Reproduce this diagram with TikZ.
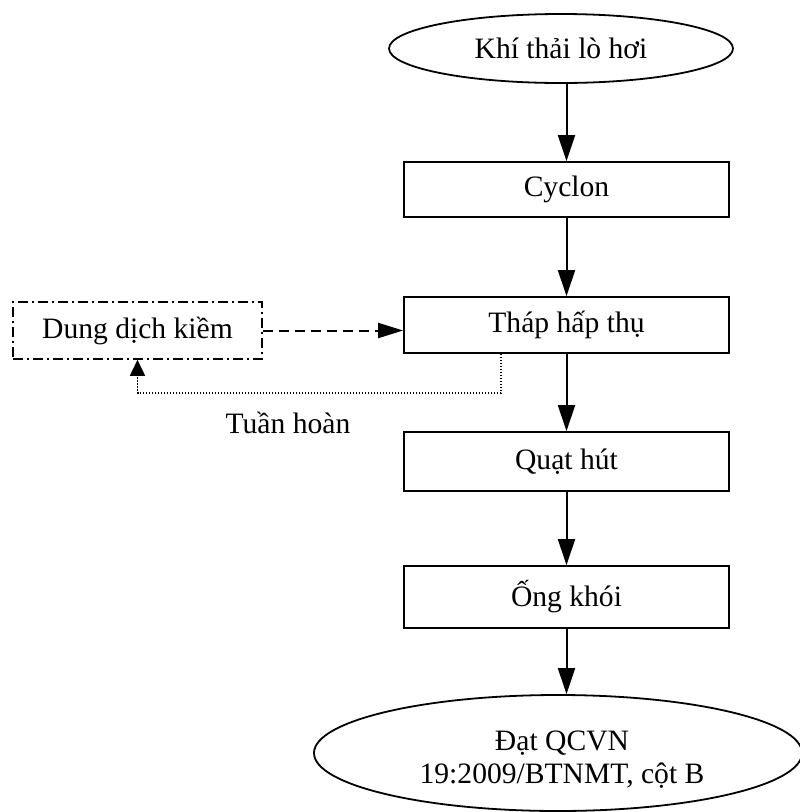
\documentclass[tikz,border=0pt]{standalone}
\usepackage{fontspec}
\setmainfont{Liberation Serif}
\usetikzlibrary{shapes.geometric,arrows.meta}
\begin{document}
\begin{tikzpicture}[x=1pt,y=-1pt,
  every node/.style={font=\fontsize{29.6}{33}\selectfont, inner sep=0pt},
  stage/.style={draw, line width=1.8pt, minimum width=325pt, align=center},
  terminal/.style={draw, ellipse, line width=1.8pt, align=center},
  flow/.style={line width=2pt, -{Triangle[length=26pt,width=17pt]}},
  feed/.style={line width=2pt, dash pattern=on 10pt off 6pt, -{Triangle[length=25pt,width=15pt]}},
  recycle/.style={line width=1.5pt, dash pattern=on 1.5pt off 1.5pt, -{Triangle[length=16pt,width=15pt]}},
  reagent/.style={draw, line width=1.5pt, dash pattern=on 10pt off 4pt on 2pt off 4pt,
    minimum width=249pt, minimum height=57pt}
]
\useasboundingbox (0,0) rectangle (800,812);

% main gas treatment line
\node[terminal, minimum width=344pt, minimum height=69pt] (khi) at (561,48.5) {Khí thải lò hơi};
\node[stage, minimum height=55pt] (cyclon) at (566.5,189.5) {Cyclon};
\node[stage, minimum height=56pt] (thap) at (566.5,325) {Tháp hấp thụ};
\node[stage, minimum height=59pt] (quat) at (566.5,461.5) {Quạt hút};
\node[stage, minimum height=62pt] (ong) at (566.5,597) {Ống khói};
\node[terminal, minimum width=488pt, minimum height=116pt] (dat) at (558,753) {};
\node[align=center] (dattext) at (562,760) {Đạt QCVN\\19:2009/BTNMT, cột B};

% alkaline solution loop
\node[reagent] (kiem) at (137.5,330.5) {Dung dịch kiềm};
\coordinate (ra) at (501,393);
\node[anchor=base] (tuan) at (288,433) {Tuần hoàn};

\draw[flow] (khi.south -| cyclon.north) -- (cyclon.north);
\draw[flow] (cyclon.south) -- (thap.north);
\draw[flow] (thap.south) -- (quat.north);
\draw[flow] (quat.south) -- (ong.north);
\draw[flow] (ong.south) -- (dat.north -| ong.south);

\draw[feed] (kiem.east) -- (kiem.east -| thap.west);
\draw[recycle] (thap.south -| ra) -- (ra) -| (kiem.south);
\end{tikzpicture}
\end{document}
